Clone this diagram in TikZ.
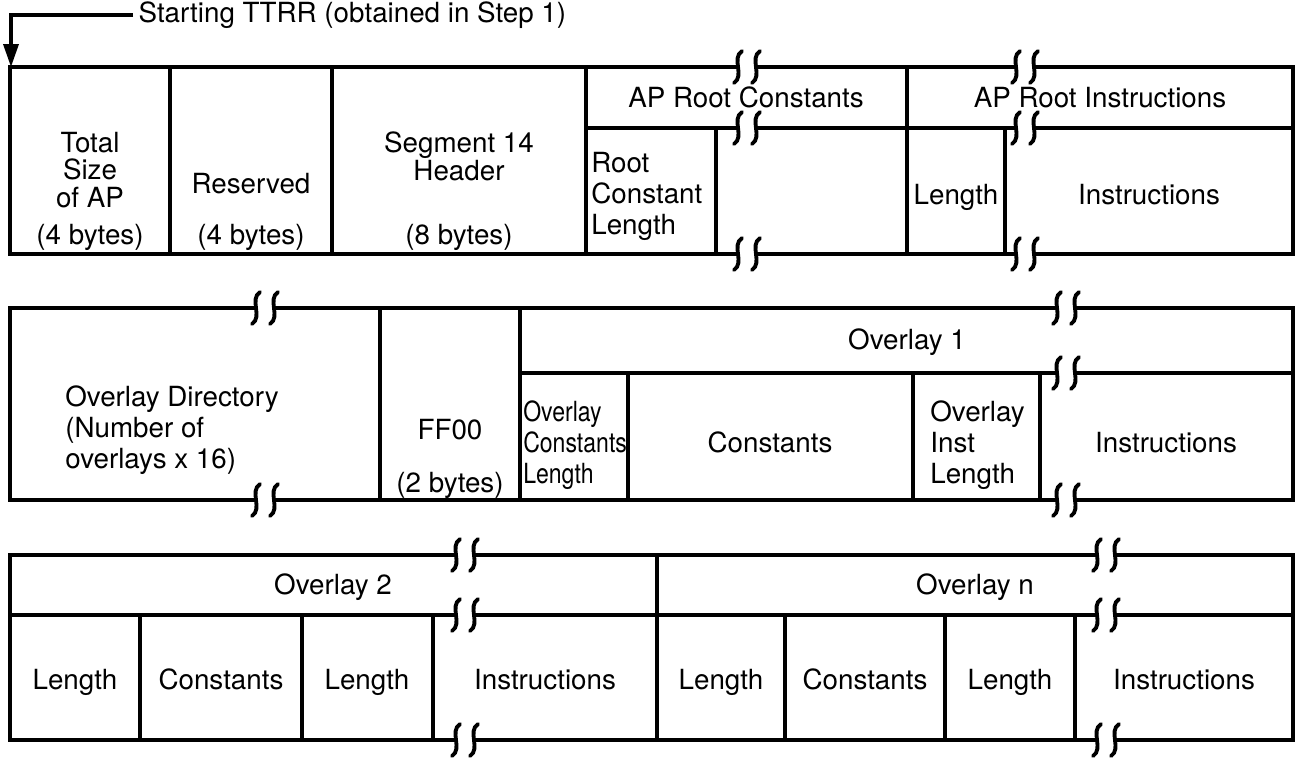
\documentclass[tikz,border=0pt]{standalone}
\usepackage{fontspec}
\setmainfont{TeX Gyre Heros}
\usetikzlibrary{arrows.meta}

\begin{document}
\begin{tikzpicture}[x=0.02cm, y=-0.02cm,
  every node/.style={font=\fontsize{15.8}{17.6}\selectfont, inner sep=0pt},
  box/.style={line width=2pt},
  brk/.style={line width=2.2pt, line cap=round}]
\useasboundingbox (0,0) rectangle (1295,758);
% pointer to start of AP
\node[anchor=west, inner sep=3pt] (start) at (133,15) {Starting TTRR (obtained in Step 1)};
\coordinate (ttrr) at (11,67);
\draw[box, -{Triangle[length=0.46cm, width=0.3cm]}] (start.west) -| (ttrr);
% row 1 frame
\draw[box] (10,67) rectangle (1293,254);
\draw[box] (586,128) -- (1293,128);
\foreach \vx in {170,332,586,907} \draw[box] (\vx,67) -- (\vx,254);
\foreach \vx in {716,1005} \draw[box] (\vx,128) -- (\vx,254);
% row 2 frame
\draw[box] (10,308) rectangle (1293,500);
\draw[box] (520,373) -- (1293,373);
\foreach \vx in {380,520} \draw[box] (\vx,308) -- (\vx,500);
\foreach \vx in {628,913,1040} \draw[box] (\vx,373) -- (\vx,500);
% row 3 frame
\draw[box] (10,555) rectangle (1293,740);
\draw[box] (10,615) -- (1293,615);
\draw[box] (657,555) -- (657,740);
\foreach \vx in {140,302,433,785,945,1075} \draw[box] (\vx,615) -- (\vx,740);
% break marks
\foreach \bx/\by in {747/67,747/128,747/254,1025/67,1025/128,1025/254,
                     265/308,265/500,1066/308,1066/373,1066/500,
                     465/555,465/615,465/740,1106/555,1106/615,1106/740}{
  \begin{scope}[shift={(\bx,\by)}]
    \fill[white] (-9,-3) rectangle (9,3);
    \foreach \cx in {-9,9}
      \draw[brk] ({\cx+4},-16) .. controls ({\cx-7},-9) and ({\cx+7},9) .. ({\cx-4},16);
  \end{scope}
}
% row 1 labels
\node[anchor=base, align=center] (tot) at (90,207) {Total\\[-2pt]Size\\[-2pt]of AP};
\node[anchor=base] (totb) at (90,244) {(4 bytes)};
\node[anchor=base] (res) at (251,193) {Reserved};
\node[anchor=base] (resb) at (251,244) {(4 bytes)};
\node[anchor=base, align=center] (seg) at (459,180) {Segment 14\\[-2pt]Header};
\node[anchor=base] (segb) at (459,244) {(8 bytes)};
\node[anchor=base] (rc) at (746,107) {AP Root Constants};
\node[anchor=base] (ri) at (1100,107) {AP Root Instructions};
\node[anchor=base west, align=left] (rcl) at (591,234) {Root\\Constant\\Length};
\node[anchor=base] (ril) at (956,204) {Length};
\node[anchor=base] (rins) at (1149,204) {Instructions};
% row 2 labels
\node[anchor=base] (ov1) at (907,349) {Overlay 1};
\node[anchor=base west, align=left] (dir) at (65,468) {Overlay Directory\\(Number of\\overlays x 16)};
\node[anchor=base] (ff) at (450,439) {FF00};
\node[anchor=base] (ffb) at (450,492) {(2 bytes)};
\node[anchor=base west, align=left, xscale=0.83] (o1cl) at (523,483) {Overlay\\Constants\\Length};
\node[anchor=base] (o1c) at (770,452) {Constants};
\node[anchor=base west, align=left] (o1il) at (930,483) {Overlay\\Inst\\Length};
\node[anchor=base] (o1i) at (1166,452) {Instructions};
% row 3 labels
\node[anchor=base] (ov2) at (333,594) {Overlay 2};
\node[anchor=base] (ovn) at (975,594) {Overlay n};
\node[anchor=base] (o2cl) at (75,689) {Length};
\node[anchor=base] (o2c) at (221,689) {Constants};
\node[anchor=base] (o2il) at (367,689) {Length};
\node[anchor=base] (o2i) at (545,689) {Instructions};
\node[anchor=base] (oncl) at (721,689) {Length};
\node[anchor=base] (onc) at (865,689) {Constants};
\node[anchor=base] (onil) at (1010,689) {Length};
\node[anchor=base] (oni) at (1184,689) {Instructions};
\end{tikzpicture}
\end{document}
